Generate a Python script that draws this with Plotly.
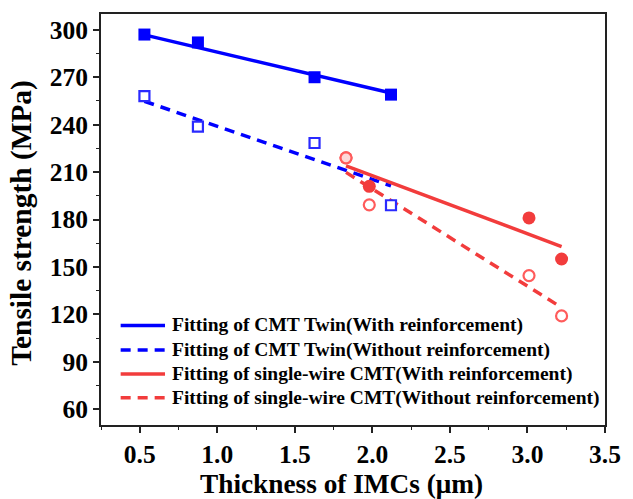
import plotly.graph_objects as go

# ---- data ----
twin_x = [0.53, 0.875, 1.627, 2.12]
twin_with_y = [297, 292, 270, 259]
twin_without_y = [258, 238.7, 228.4, 189]

single_x = [1.83, 1.98, 3.01, 3.22]
single_with_y = [219, 201, 181, 155]
single_without_y = [219, 189.3, 144.5, 119]

# fitted lines (endpoints as drawn in the reference)
fit_twin_x = [0.53, 2.12]
fit_twin_with_y = [296.8, 260.0]
fit_twin_without_y = [254.8, 201.3]
fit_single_x = [1.83, 3.22]
fit_single_with_y = [213.9, 162.9]
fit_single_without_y = [209.8, 124.3]

legend_names = [
    "Fitting of CMT Twin(With reinforcement)",
    "Fitting of CMT Twin(Without reinforcement)",
    "Fitting of single-wire CMT(With reinforcement)",
    "Fitting of single-wire CMT(Without reinforcement)",
]

x_ticks = [0.5, 1.0, 1.5, 2.0, 2.5, 3.0, 3.5]
y_ticks = [60, 90, 120, 150, 180, 210, 240, 270, 300]

x_title = "Thickness of IMCs (μm)"
y_title = "Tensile strength (MPa)"

BLUE = "#0000FF"
BLUE_O = "#2a2aff"
RED = "#F23C3C"
RED_O = "#FF5B5B"
FONT = "Liberation Serif"
DASH = "10px,7px"

fig = go.Figure()

fit_styles = [
    (fit_twin_x, fit_twin_with_y, BLUE, "solid"),
    (fit_twin_x, fit_twin_without_y, BLUE, DASH),
    (fit_single_x, fit_single_with_y, RED, "solid"),
    (fit_single_x, fit_single_without_y, RED, DASH),
]

# fit lines
for (fx, fy, col, dash), name in zip(fit_styles, legend_names):
    fig.add_trace(go.Scatter(x=fx, y=fy, mode="lines", name=name, showlegend=False,
                             line=dict(color=col, width=3.5, dash=dash)))

# markers
fig.add_trace(go.Scatter(x=twin_x, y=twin_with_y, mode="markers", showlegend=False,
                         marker=dict(symbol="square", size=12, color=BLUE, line=dict(width=0))))
fig.add_trace(go.Scatter(x=twin_x, y=twin_without_y, mode="markers", showlegend=False,
                         marker=dict(symbol="square", size=10, color="white",
                                     line=dict(color=BLUE_O, width=2.2))))
fig.add_trace(go.Scatter(x=single_x, y=single_with_y, mode="markers", showlegend=False,
                         marker=dict(symbol="circle", size=13, color=RED, line=dict(width=0))))
fig.add_trace(go.Scatter(x=single_x, y=single_without_y, mode="markers", showlegend=False,
                         marker=dict(symbol="circle", size=11, color="rgba(255,255,255,0.8)",
                                     line=dict(color=RED_O, width=2.2))))

axis_common = dict(
    showline=True, linecolor="#222", linewidth=1.6, mirror=True,
    ticks="outside", ticklen=6, tickwidth=1.5, tickcolor="#222",
    showgrid=False, zeroline=False,
    tickfont=dict(family=FONT, size=25.5, color="black", weight="bold"),
)

fig.update_xaxes(
    range=[0.25, 3.5], tickvals=x_ticks, ticktext=[f"{v:.1f}" for v in x_ticks],
    minor=dict(ticks="outside", ticklen=3.5, tickwidth=1.2, tickcolor="#222", dtick=0.25, tick0=0.25),
    **axis_common,
)
fig.update_yaxes(
    range=[50, 310], tickvals=y_ticks, ticktext=[str(v) for v in y_ticks],
    minor=dict(ticks="outside", ticklen=3.5, tickwidth=1.2, tickcolor="#222", dtick=15, tick0=45),
    **axis_common,
)

# ---- custom legend (line sample + label), positioned in paper coordinates ----
legend_rows_y = [0.2421, 0.1823, 0.1242, 0.0661]
shapes = []
annotations = []
for (fx, fy, col, dash), name, ry in zip(fit_styles, legend_names, legend_rows_y):
    shapes.append(dict(type="line", xref="paper", yref="paper",
                       x0=0.039, x1=0.127, y0=ry, y1=ry,
                       line=dict(color=col, width=3.5, dash=dash)))
    annotations.append(dict(xref="paper", yref="paper", x=0.136, y=ry,
                            xanchor="left", yanchor="middle", showarrow=False,
                            text=name,
                            font=dict(family=FONT, size=19.5, color="black", weight="bold")))

# axis titles
annotations.append(dict(xref="paper", yref="paper", x=0.477, y=-0.143,
                        xanchor="center", yanchor="middle", showarrow=False, text=x_title,
                        font=dict(family=FONT, size=27.3, color="black", weight="bold")))
annotations.append(dict(xref="paper", yref="paper", x=-0.158, y=0.4927,
                        xanchor="center", yanchor="middle", showarrow=False, text=y_title,
                        textangle=-90,
                        font=dict(family=FONT, size=29.4, color="black", weight="bold")))

fig.update_layout(
    width=633, height=499,
    margin=dict(l=101, r=19, t=12, b=74),
    plot_bgcolor="white", paper_bgcolor="white",
    font=dict(family=FONT, color="black"),
    showlegend=False,
    shapes=shapes,
    annotations=annotations,
)

fig.write_html("out.html")
